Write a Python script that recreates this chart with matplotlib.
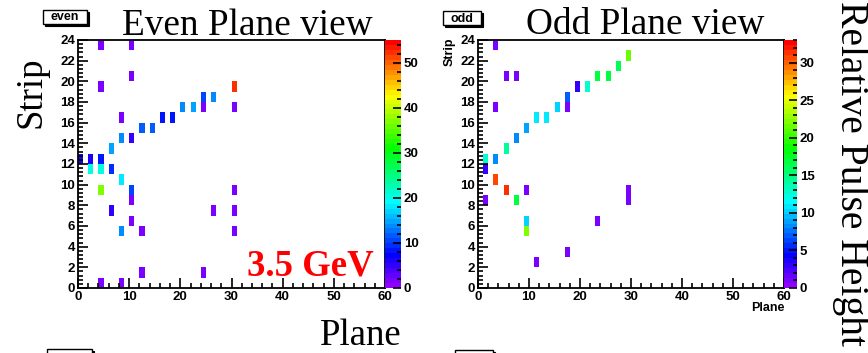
import colorsys
import numpy as np
import matplotlib
matplotlib.use("Agg")
import matplotlib.pyplot as plt
from matplotlib.colors import ListedColormap
from matplotlib.patches import Rectangle
from matplotlib.ticker import MultipleLocator

W, H = 868, 353

# even planes: lower bin edges (plane, strip) and pulse height
even_plane = [4, 10, 10, 4, 30, 30, 24, 24, 26, 20, 22, 16, 18, 12, 14, 8, 8, 10, 6,
              0, 2, 4, 2, 4, 6, 8, 4, 10, 10, 30, 6, 26, 30, 10, 8, 12, 30, 12, 24, 4, 8]
even_strip = [23, 23, 20, 19, 19, 17, 18, 17, 18, 17, 17, 16, 16, 15, 15, 16, 14, 14, 13,
              12, 12, 12, 11, 11, 11, 10, 9, 9, 8, 9, 7, 7, 7, 6, 5, 5, 5, 1, 1, 0, 0]
even_pulse = [2, 2, 2, 2, 52, 2, 10, 2, 14, 14, 15, 8, 8, 12, 12, 2, 14, 5, 15,
              6, 6, 8, 20, 20, 9, 18, 37, 10, 2, 2, 5, 2, 2, 2, 14, 2, 2, 2, 2, 2, 2]

# odd planes
odd_plane = [3, 5, 7, 3, 19, 21, 23, 25, 27, 29, 17, 17, 15, 11, 13, 9, 7, 5, 1, 3,
             1, 3, 5, 9, 1, 7, 29, 29, 9, 9, 23, 17, 11]
odd_strip = [23, 20, 20, 17, 19, 19, 20, 20, 21, 22, 18, 17, 17, 16, 16, 15, 14, 13, 12, 12,
             11, 10, 9, 9, 8, 8, 8, 9, 6, 5, 6, 3, 2]
odd_pulse = [1, 1, 1, 1, 3, 13, 16.5, 16.5, 16, 21.5, 7, 1, 10.5, 11, 11, 9, 8, 14, 13, 8,
             3.2, 30.5, 31.5, 1, 1, 16.5, 1, 1, 10, 22, 1, 1, 1]

z_max_even = 55
z_max_odd = 33

# ROOT "pretty" palette (colours 51-100)
pal = [colorsys.hls_to_rgb((280 - (i + 1) * 5.6) / 360.0, 0.5, 1.0) for i in range(50)]
cmap = ListedColormap(pal)

plt.rcParams['font.family'] = ['Liberation Sans', 'DejaVu Sans']
plt.rcParams['font.weight'] = 'bold'

fig = plt.figure(figsize=(W / 100, H / 100), dpi=100)


def rect(x0, y0, x1, y1):
    return [x0 / W, 1 - y1 / H, (x1 - x0) / W, (y1 - y0) / H]


def px(x, y):
    return x / W, 1 - y / H


def panel(ax_box, cb_box, plane, strip, pulse, zmax, cb_major, cb_minor):
    ax = fig.add_axes(rect(*ax_box))
    hist, xe, ye = np.histogram2d(plane, strip, bins=[np.arange(0, 61), np.arange(0, 25)],
                                  weights=pulse)
    data = np.ma.masked_equal(hist.T, 0)
    mesh = ax.pcolormesh(xe, ye, data, cmap=cmap, vmin=0, vmax=zmax)
    ax.set_xlim(0, 60)
    ax.set_ylim(0, 24)
    ax.xaxis.set_major_locator(MultipleLocator(10))
    ax.xaxis.set_minor_locator(MultipleLocator(2))
    ax.yaxis.set_major_locator(MultipleLocator(2))
    ax.yaxis.set_minor_locator(MultipleLocator(0.4))
    ax.tick_params(which='both', direction='in', labelsize=9.5, width=1.2)
    ax.tick_params(which='major', length=7)
    ax.tick_params(which='minor', length=3.5)
    ax.tick_params(axis='x', pad=2)
    ax.tick_params(axis='y', pad=2)
    for s in ax.spines.values():
        s.set_linewidth(1.3)
    cax = fig.add_axes(rect(*cb_box))
    cb = fig.colorbar(mesh, cax=cax)
    cb.outline.set_visible(False)
    cb.set_ticks(np.arange(0, zmax + 0.1, cb_major))
    cax.yaxis.set_minor_locator(MultipleLocator(cb_minor))
    cax.tick_params(which='both', direction='in', labelsize=9.5, width=1.2, pad=2)
    cax.tick_params(which='major', length=6)
    cax.tick_params(which='minor', length=3)
    return ax


def tag(x0, y0, x1, y1, label=None):
    fig.patches.append(Rectangle(px(x0 + 2, y1 + 2), (x1 - x0) / W, (y1 - y0) / H,
                                 transform=fig.transFigure, facecolor='black',
                                 edgecolor='black', lw=0.8, figure=fig))
    fig.patches.append(Rectangle(px(x0, y1), (x1 - x0) / W, (y1 - y0) / H,
                                 transform=fig.transFigure, facecolor='white',
                                 edgecolor='black', lw=1.0, figure=fig))
    if label:
        fig.text(*px((x0 + x1) / 2, (y0 + y1) / 2 + 0.5), label, ha='center', va='center',
                 fontsize=9, fontweight='bold')


panel((78, 40, 385, 288), (385, 40, 401, 288), even_plane, even_strip, even_pulse,
      z_max_even, 10, 2)
panel((478, 40, 784, 288), (784, 40, 797, 288), odd_plane, odd_strip, odd_pulse,
      z_max_odd, 5, 1)

serif = ['Liberation Serif', 'DejaVu Serif']
fig.text(*px(247, 35), 'Even Plane view', ha='center', va='baseline', fontsize=26.8,
         family=serif, fontweight='normal')
fig.text(*px(645, 34), 'Odd Plane view', ha='center', va='baseline', fontsize=26.8,
         family=serif, fontweight='normal')
fig.text(*px(31, 92), 'Strip', rotation=90, ha='center', va='center', fontsize=26.5,
         family=serif, fontweight='normal')
fig.text(*px(402, 345), 'Plane', ha='right', va='baseline', fontsize=26.5,
         family=serif, fontweight='normal')
fig.text(*px(374, 276), '3.5 GeV', ha='right', va='baseline', fontsize=26.5,
         family=serif, fontweight='bold', color='#ff0000')
fig.text(*px(850, 174), 'Relative Pulse Height', rotation=270, ha='center', va='center',
         fontsize=28.5, family=serif, fontweight='normal')
fig.text(*px(450, 38), 'Strip', rotation=90, ha='center', va='top', fontsize=9)
fig.text(*px(785, 302), 'Plane', ha='right', va='top', fontsize=9)

tag(43, 10, 87, 24, 'even')
tag(443, 11, 481, 25, 'odd')
# panels of the next row, cut by the lower edge
tag(47, 349, 92, 363)
tag(455, 350, 493, 364)

fig.savefig('out.png', dpi=100)
